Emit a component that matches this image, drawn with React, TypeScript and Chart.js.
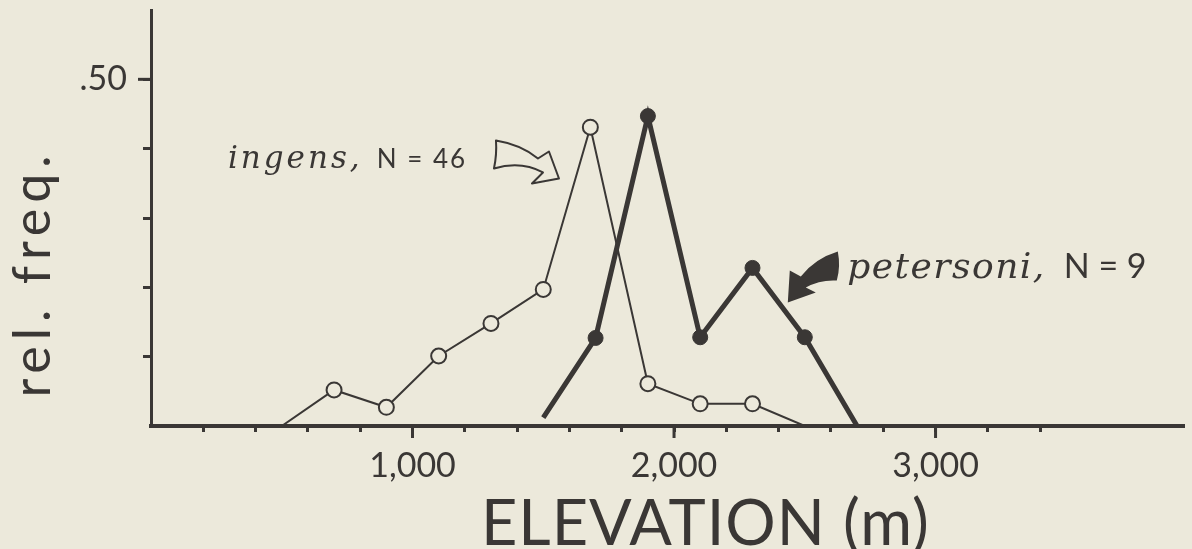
import React, { useEffect, useRef } from "react";
import { Chart, registerables } from "chart.js";

Chart.register(...registerables);

// ---------- data ----------
const ingensElevation = [500, 700, 900, 1100, 1300, 1500, 1680, 1900, 2100, 2300, 2500];
const ingensFreq = [0, 0.052, 0.027, 0.101, 0.148, 0.197, 0.431, 0.061, 0.032, 0.032, 0];

const petersoniElevation = [1500, 1700, 1900, 2100, 2300, 2500, 2700];
const petersoniFreq = [0.012, 0.127, 0.447, 0.128, 0.228, 0.128, 0];

const xLabeledTicks = [1000, 2000, 3000];
const xTickLabels = ["1,000", "2,000", "3,000"];
const yLabeledTicks = [0.5];
const yTickLabels = [".50"];

const xTitle = "ELEVATION (m)";
const yTitle = "rel. freq.";
const ingensName = "ingens,";
const ingensN = "N = 46";
const petersoniName = "petersoni,";
const petersoniN = "N = 9";

// annotation anchors in data units
const ingensTextAnchor = { x: 294, y: 0.372 };
const ingensArrowTip = { x: 1560, y: 0.357 };
const petersoniTextAnchor = { x: 2662, y: 0.2135 };
const petersoniArrowTip = { x: 2435, y: 0.178 };
const xTitleCenter = 2120;
const yTitleCenter = 0.22;

// ---------- style ----------
const BG = "#ECE9DB";
const INK = "#3A3735";
const SANS = "Lato, 'Open Sans', 'DejaVu Sans', sans-serif";
const SERIF_IT = "'DejaVu Serif', 'Liberation Serif', serif";

const near = (a: number, b: number) => Math.abs(a - b) < 1e-6;

const annotationPlugin = {
  id: "annotations",
  afterDraw(chart: any) {
    const { ctx, chartArea } = chart;
    const x = chart.scales.x;
    const y = chart.scales.y;
    ctx.save();

    // longer major ticks
    ctx.strokeStyle = INK;
    ctx.lineCap = "butt";
    ctx.lineWidth = 3;
    xLabeledTicks.forEach((v) => {
      const px = x.getPixelForValue(v);
      ctx.beginPath();
      ctx.moveTo(px, chartArea.bottom);
      ctx.lineTo(px, chartArea.bottom + 12);
      ctx.stroke();
    });
    yLabeledTicks.forEach((v) => {
      const py = y.getPixelForValue(v);
      ctx.beginPath();
      ctx.moveTo(chartArea.left - 13, py);
      ctx.lineTo(chartArea.left, py);
      ctx.stroke();
    });

    ctx.fillStyle = INK;
    ctx.textBaseline = "alphabetic";

    // x title
    ctx.font = `63px ${SANS}`;
    (ctx as any).letterSpacing = "1px";
    ctx.textAlign = "center";
    ctx.fillText(xTitle, x.getPixelForValue(xTitleCenter), chartArea.bottom + 119);

    // y title (rotated)
    ctx.save();
    ctx.font = `52px ${SANS}`;
    (ctx as any).letterSpacing = "6px";
    ctx.translate(50, y.getPixelForValue(yTitleCenter));
    ctx.rotate(-Math.PI / 2);
    ctx.textAlign = "center";
    ctx.fillText(yTitle, 0, 0);
    ctx.restore();

    // ingens label
    ctx.textAlign = "left";
    let tx = x.getPixelForValue(ingensTextAnchor.x);
    let ty = y.getPixelForValue(ingensTextAnchor.y);
    ctx.font = `italic 31px ${SERIF_IT}`;
    (ctx as any).letterSpacing = "3px";
    ctx.fillText(ingensName, tx, ty);
    tx += ctx.measureText(ingensName).width + 14;
    ctx.font = `26px ${SANS}`;
    (ctx as any).letterSpacing = "2px";
    ctx.fillText(ingensN, tx, ty);

    // petersoni label
    tx = x.getPixelForValue(petersoniTextAnchor.x);
    ty = y.getPixelForValue(petersoniTextAnchor.y);
    ctx.font = `italic 36px ${SERIF_IT}`;
    (ctx as any).letterSpacing = "1.5px";
    ctx.fillText(petersoniName, tx, ty);
    tx += ctx.measureText(petersoniName).width + 18;
    ctx.font = `34px ${SANS}`;
    (ctx as any).letterSpacing = "0px";
    ctx.fillText(petersoniN, tx, ty);

    // hollow arrow (ingens), offsets relative to tip
    let ax = x.getPixelForValue(ingensArrowTip.x);
    let ay = y.getPixelForValue(ingensArrowTip.y);
    ctx.lineWidth = 2;
    ctx.lineJoin = "round";
    ctx.beginPath();
    ctx.moveTo(ax - 63, ay - 38);
    ctx.quadraticCurveTo(ax - 38, ay - 34, ax - 21, ay - 20);
    ctx.lineTo(ax - 10, ay - 27);
    ctx.lineTo(ax, ay);
    ctx.lineTo(ax - 27, ay + 5);
    ctx.lineTo(ax - 16, ay - 6);
    ctx.quadraticCurveTo(ax - 38, ay - 18, ax - 65, ay - 10);
    ctx.quadraticCurveTo(ax - 62, ay - 24, ax - 63, ay - 38);
    ctx.closePath();
    ctx.fillStyle = BG;
    ctx.fill();
    ctx.stroke();

    // filled arrow (petersoni), offsets relative to tip
    ax = x.getPixelForValue(petersoniArrowTip.x);
    ay = y.getPixelForValue(petersoniArrowTip.y);
    ctx.beginPath();
    ctx.moveTo(ax + 50, ay - 51);
    ctx.quadraticCurveTo(ax + 27, ay - 44, ax + 13, ay - 26);
    ctx.lineTo(ax + 2, ay - 32);
    ctx.lineTo(ax, ay);
    ctx.lineTo(ax + 28, ay - 10);
    ctx.lineTo(ax + 18, ay - 15);
    ctx.quadraticCurveTo(ax + 32, ay - 23, ax + 49, ay - 22);
    ctx.quadraticCurveTo(ax + 53, ay - 36, ax + 50, ay - 51);
    ctx.closePath();
    ctx.fillStyle = INK;
    ctx.fill();

    ctx.restore();
  },
};

export default function App() {
  const ref = useRef<HTMLCanvasElement | null>(null);

  useEffect(() => {
    document.body.style.margin = "0";
    document.body.style.background = BG;
    const canvas = ref.current;
    if (!canvas) return;

    const endRadius = (n: number, r: number) => (c: any) =>
      c.dataIndex === 0 || c.dataIndex === n - 1 ? 0 : r;

    const chart = new Chart(canvas, {
      type: "line",
      data: {
        datasets: [
          {
            label: "petersoni",
            data: petersoniElevation.map((e, i) => ({ x: e, y: petersoniFreq[i] })),
            borderColor: INK,
            borderWidth: 5,
            backgroundColor: INK,
            pointBackgroundColor: INK,
            pointBorderColor: INK,
            pointBorderWidth: 1,
            pointRadius: endRadius(petersoniElevation.length, 7.5),
            tension: 0,
          },
          {
            label: "ingens",
            data: ingensElevation.map((e, i) => ({ x: e, y: ingensFreq[i] })),
            borderColor: INK,
            borderWidth: 2,
            pointBackgroundColor: BG,
            pointBorderColor: INK,
            pointBorderWidth: 2,
            pointRadius: endRadius(ingensElevation.length, 7.5),
            tension: 0,
          },
        ],
      },
      options: {
        animation: false,
        responsive: false,
        maintainAspectRatio: false,
        layout: { padding: { top: 10, right: 8, left: 0, bottom: 0 } },
        plugins: {
          legend: { display: false },
          tooltip: { enabled: false },
          title: { display: false },
        },
        scales: {
          x: {
            type: "linear",
            min: 0,
            max: 3950,
            border: { display: true, color: INK, width: 4 },
            grid: {
              drawOnChartArea: false,
              drawTicks: true,
              tickLength: 6,
              tickWidth: 3,
              tickColor: (c: any) => {
                const v = c.tick ? c.tick.value : 0;
                return v > 0 && v <= 3400 ? INK : "rgba(0,0,0,0)";
              },
            },
            ticks: {
              stepSize: 200,
              autoSkip: false,
              maxRotation: 0,
              padding: 14,
              color: INK,
              font: { family: SANS, size: 34 },
              callback: (v: any) => {
                const i = xLabeledTicks.findIndex((t) => near(t, Number(v)));
                return i >= 0 ? xTickLabels[i] : "";
              },
            },
            afterFit: (s: any) => {
              s.height = 123;
              s.paddingLeft = 0;
              s.paddingRight = 0;
            },
          },
          y: {
            type: "linear",
            min: 0,
            max: 0.6,
            border: { display: true, color: INK, width: 3 },
            grid: {
              drawOnChartArea: false,
              drawTicks: true,
              tickLength: 8,
              tickWidth: 3,
              tickColor: (c: any) => {
                const v = c.tick ? c.tick.value : 0;
                return v > 0.05 && v < 0.55 ? INK : "rgba(0,0,0,0)";
              },
            },
            ticks: {
              stepSize: 0.1,
              autoSkip: false,
              padding: 16,
              color: INK,
              font: { family: SANS, size: 34 },
              callback: (v: any) => {
                const i = yLabeledTicks.findIndex((t) => near(t, Number(v)));
                return i >= 0 ? yTickLabels[i] : "";
              },
            },
            afterFit: (s: any) => {
              s.width = 151;
              s.paddingTop = 0;
              s.paddingBottom = 0;
            },
          },
        },
      },
      plugins: [annotationPlugin],
    });

    return () => chart.destroy();
  }, []);

  return (
    <div style={{ position: "fixed", left: 0, top: 0, width: 1192, height: 549, background: BG }}>
      <canvas ref={ref} width={1192} height={549} style={{ display: "block", width: 1192, height: 549 }} />
    </div>
  );
}
